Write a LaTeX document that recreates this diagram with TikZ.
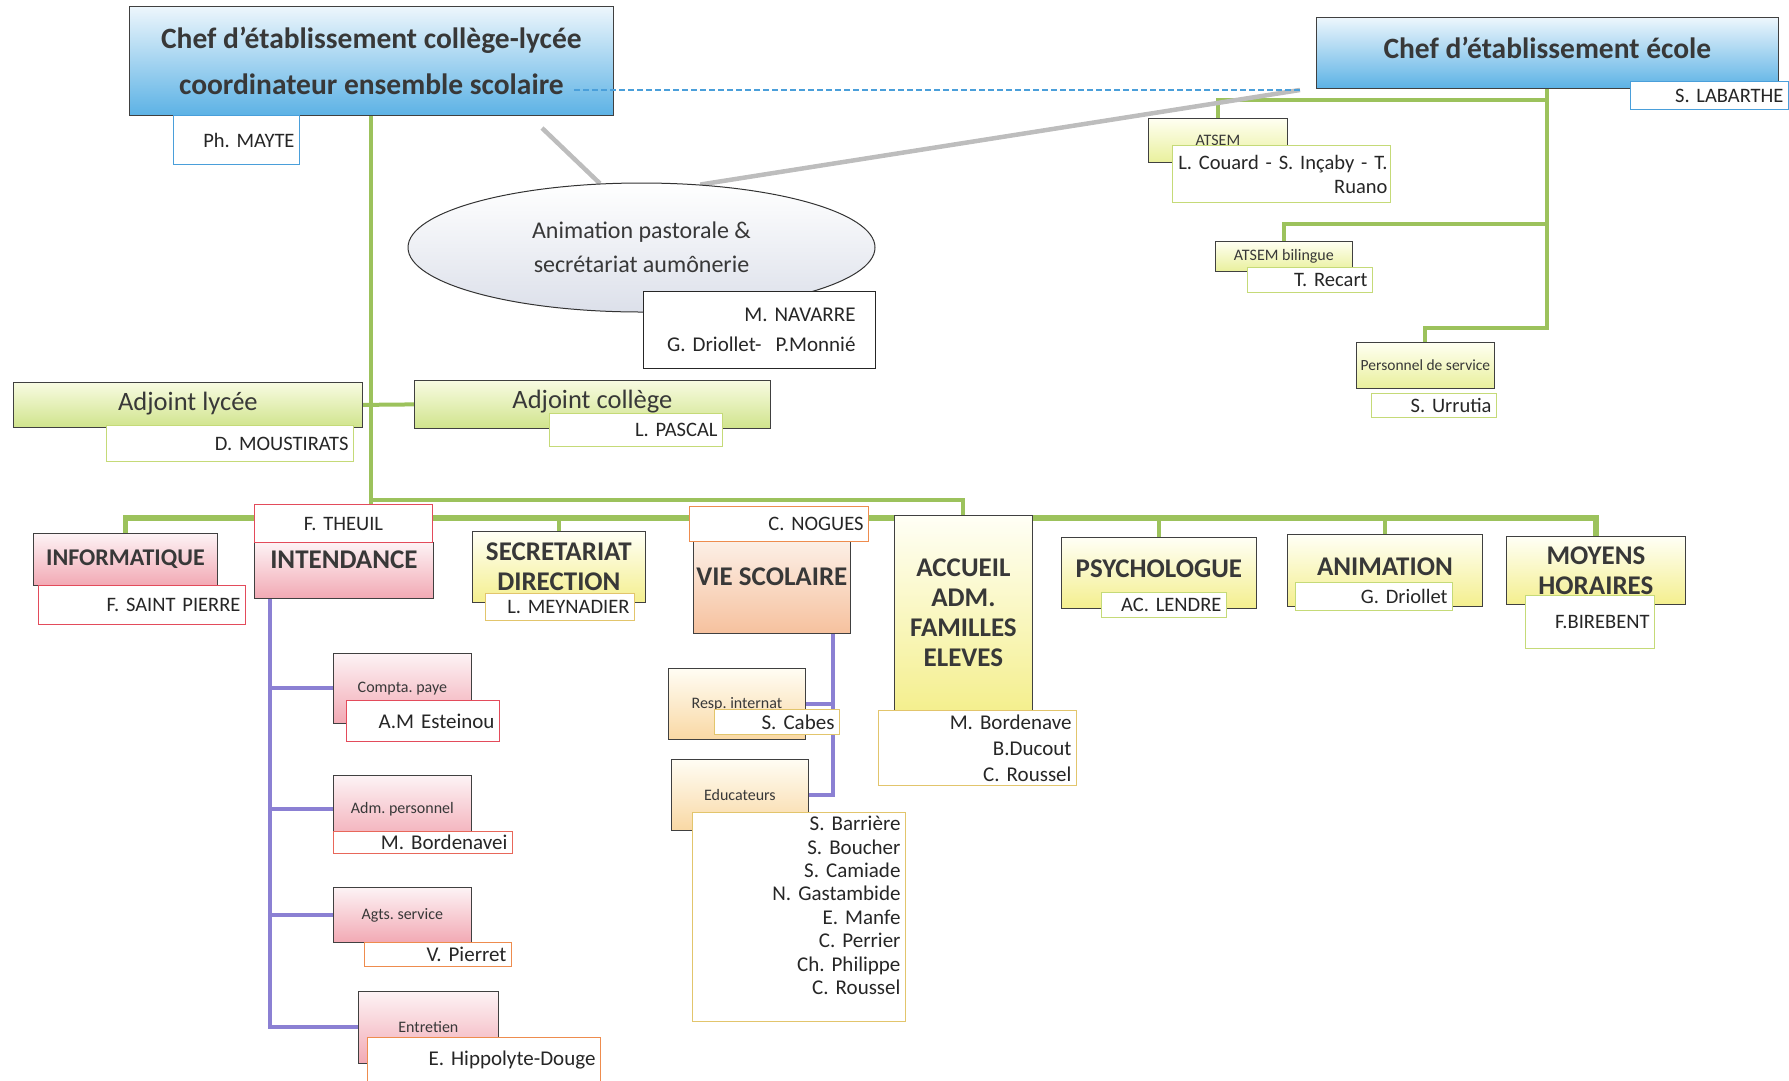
\documentclass[tikz,border=0pt]{standalone}
\usepackage{fontspec}
\setmainfont{Carlito}
\usetikzlibrary{shapes.geometric,backgrounds}
\frenchspacing

\definecolor{bluetop}{HTML}{EDF6FC}
\definecolor{bluebot}{HTML}{5CB2E5}
\definecolor{greentop}{HTML}{F8FBE2}
\definecolor{greenbot}{HTML}{D0E48C}
\definecolor{yeltop}{HTML}{FFFFF6}
\definecolor{yelbot}{HTML}{F4EF8E}
\definecolor{ygtop}{HTML}{FFFFF2}
\definecolor{ygbot}{HTML}{E9F09C}
\definecolor{pinktop}{HTML}{FDF3F5}
\definecolor{pinkbot}{HTML}{F2A9B4}
\definecolor{peachtop}{HTML}{FCEFE6}
\definecolor{peachbot}{HTML}{F6C19E}
\definecolor{ochretop}{HTML}{FFFDF4}
\definecolor{ochrebot}{HTML}{F9D8A4}
\definecolor{ellbot}{HTML}{DCE0EA}
\definecolor{nblue}{HTML}{4A9FDA}
\definecolor{ngreen}{HTML}{C5DA78}
\definecolor{nred}{HTML}{E34B5B}
\definecolor{nredor}{HTML}{E8675A}
\definecolor{norange}{HTML}{EE8C4E}
\definecolor{nochre}{HTML}{E2C56C}
\definecolor{lgreen}{HTML}{9CC25C}
\definecolor{lpurple}{HTML}{8B80D3}
\definecolor{lgrey}{HTML}{BDBDBD}

\begin{document}
\begin{tikzpicture}[x=1pt,y=-1pt,
    sz/.style 2 args={minimum width=#1pt,minimum height=#2pt},
    nw/.style 2 args={text width=#1pt,minimum height=#2pt},
    lift/.style={text depth=#1pt}]
    \tikzstyle{box} = [draw=black!75,line width=0.8pt,anchor=north west,inner sep=0pt,align=center,text=black!78]
    \tikzstyle{chef} = [box,top color=bluetop,bottom color=bluebot,font=\bfseries\fontsize{29.5}{46}\selectfont]
    \tikzstyle{adj} = [box,top color=greentop,bottom color=greenbot,font=\fontsize{26.5}{30}\selectfont]
    \tikzstyle{pole} = [box,font=\bfseries\fontsize{27}{30}\selectfont]
    \tikzstyle{sub} = [box,font=\fontsize{16}{19}\selectfont]
    \tikzstyle{fpink} = [top color=pinktop,bottom color=pinkbot]
    \tikzstyle{fyel} = [top color=yeltop,bottom color=yelbot]
    \tikzstyle{fyg} = [top color=ygtop,bottom color=ygbot]
    \tikzstyle{fpeach} = [top color=peachtop,bottom color=peachbot]
    \tikzstyle{fochre} = [top color=ochretop,bottom color=ochrebot]
    \tikzstyle{nm} = [fill=white,line width=1pt,anchor=north west,inner xsep=5pt,inner ysep=0pt,align=right,text=black!85,font=\fontsize{20.5}{24}\selectfont]
    \tikzstyle{gl} = [draw=lgreen,line width=4pt]
    \tikzstyle{pl} = [draw=lpurple,line width=4pt]
    \tikzstyle{grl} = [draw=lgrey,line width=4.5pt]
    \tikzstyle{dl} = [draw=nblue,line width=2pt,dash pattern=on 6pt off 3pt]

    \useasboundingbox (0,0) rectangle (1789,1080);

    \node[chef,sz={484}{109}] (chef1) at (129,6) {Chef d'établissement collège-lycée\\coordinateur ensemble scolaire};
    \node[nm,draw=nblue,nw={116}{49}] (mayte) at (173,115) {Ph. MAYTE};
    \node[chef,sz={462}{71},lift=10] (ecole) at (1316,17) {Chef d'établissement école};
    \node[nm,draw=nblue,nw={148}{28}] (labarthe) at (1630,81) {S. LABARTHE};

    \node[ellipse,draw=black!80,line width=1pt,top color=white,bottom color=ellbot,sz={467}{129},inner sep=0pt,
        align=center,text=black!78,font=\fontsize{24}{34}\selectfont] (pasto) at (641.5,247.5) {Animation pastorale \&\\secrétariat aumônerie};
    \node[nm,draw=black!85,inner xsep=20pt,nw={192}{77},font=\fontsize{21}{30}\selectfont] (navarre) at (643,291) {M. NAVARRE\\G. Driollet-~~P.Monnié};

    \node[adj,sz={349}{45},lift=8] (adjl) at (13,382) {Adjoint lycée};
    \node[nm,draw=ngreen,nw={237}{36}] (moustirats) at (106,425) {D. MOUSTIRATS};
    \node[adj,sz={356}{48},lift=10] (adjc) at (414,380) {Adjoint collège};
    \node[nm,draw=ngreen,nw={163}{33}] (pascal) at (549,413) {L. PASCAL};

    \node[pole,fpink,sz={184}{52},font=\bfseries\fontsize{24}{30}\selectfont] (info) at (33,533) {INFORMATIQUE};
    \node[nm,draw=nred,nw={197}{39}] (saintpierre) at (38,585) {F. SAINT PIERRE};
    \node[pole,fpink,sz={179}{56},lift=22] (intend) at (254,542) {INTENDANCE};
    \node[nm,draw=nred,align=center,nw={168}{38}] (theuil) at (254,504) {F. THEUIL};
    \node[pole,fyel,sz={173}{71}] (secr) at (472,531) {SECRETARIAT\\DIRECTION};
    \node[nm,draw=nochre,nw={139}{27}] (meynadier) at (485,593) {L. MEYNADIER};
    \node[pole,fpeach,sz={157}{92},lift=21] (vie) at (693,541) {VIE SCOLAIRE};
    \node[nm,draw=norange,nw={169}{35}] (nogues) at (689,506) {C. NOGUES};
    \node[pole,fyel,sz={138}{195}] (accueil) at (894,515) {ACCUEIL\\ADM.\\FAMILLES\\ELEVES};
    \node[nm,draw=nochre,nw={188}{75},font=\fontsize{21}{26}\selectfont] (accnames) at (878,710) {M. Bordenave\\B.Ducout\\C. Roussel};
    \node[pole,fyel,sz={195}{71},lift=8] (psy) at (1061,537) {PSYCHOLOGUE};
    \node[nm,draw=ngreen,nw={115}{25}] (lendre) at (1101,592) {AC. LENDRE};
    \node[pole,fyel,sz={195}{72},lift=8] (anim) at (1287,534) {ANIMATION};
    \node[nm,draw=ngreen,nw={147}{28}] (driollet) at (1295,582) {G. Driollet};
    \node[pole,fyel,sz={179}{68}] (moyens) at (1506,536) {MOYENS\\HORAIRES};
    \node[nm,draw=ngreen,nw={119}{53}] (birebent) at (1525,595) {F.BIREBENT};

    \node[sub,fpink,sz={138}{70}] (compta) at (333,653) {Compta. paye};
    \node[nm,draw=nred,nw={143}{41},font=\fontsize{21}{24}\selectfont] (esteinou) at (346,700) {A.M Esteinou};
    \node[sub,fpink,sz={138}{68}] (adm) at (333,775) {Adm. personnel};
    \node[nm,draw=nredor,nw={169}{22},font=\fontsize{21}{24}\selectfont] (bordenavei) at (333,831) {M. Bordenavei};
    \node[sub,fpink,sz={138}{55}] (agts) at (333,887) {Agts. service};
    \node[nm,draw=norange,nw={137}{24},font=\fontsize{21}{24}\selectfont] (pierret) at (364,942) {V. Pierret};
    \node[sub,fpink,sz={140}{72}] (entr) at (358,991) {Entretien};
    \node[nm,draw=norange,nw={223}{45},font=\fontsize{21}{24}\selectfont] (hippolyte) at (367,1037) {E. Hippolyte-Douge};

    \node[sub,fochre,sz={137}{71}] (resp) at (668,668) {Resp. internat};
    \node[nm,draw=nochre,nw={115}{25},font=\fontsize{21}{24}\selectfont] (cabes) at (714,709) {S. Cabes};
    \node[sub,fochre,sz={137}{71}] (educ) at (671,759) {Educateurs};
    \node[nm,draw=nochre,nw={203}{209},font=\fontsize{21}{23.4}\selectfont] (educnames) at (692,812)
        {S. Barrière\\S. Boucher\\S. Camiade\\N. Gastambide\\E. Manfe\\C. Perrier\\Ch. Philippe\\C. Roussel\\\mbox{}};

    \node[sub,fyg,sz={139}{44}] (atsem) at (1148,118) {ATSEM};
    \node[nm,draw=ngreen,inner xsep=3pt,nw={212}{57}] (couard) at (1172,145) {L. Couard - S. Inçaby - T.\\Ruano};
    \node[sub,fyg,sz={137}{30}] (atsemb) at (1215,241) {ATSEM bilingue};
    \node[nm,draw=ngreen,nw={115}{25}] (recart) at (1247,267) {T. Recart};
    \node[sub,fyg,sz={138}{46},font=\fontsize{15.5}{18}\selectfont] (perso) at (1356,342) {Personnel de service};
    \node[nm,draw=ngreen,nw={115}{24}] (urrutia) at (1371,393) {S. Urrutia};

    \coordinate (bar) at (0,518);
    \coordinate (g1) at (542,128);
    \coordinate (dA) at (574,90);
    \coordinate (dB) at (1300,90);
    \coordinate (itop) at ([xshift=-73.5pt]intend.south);
    \coordinate (vtop) at ([xshift=61.5pt]vie.south);

    \begin{scope}[on background layer]
        \draw[gl] (chef1.south) -- (chef1.south |- bar);
        \draw[gl] (chef1.south |- 0,500) -| (accueil.north);
        \draw[gl] (adjl.east) -- (adjc.west);
        \draw[gl,line width=5.5pt] (info.north) -- (info.north |- bar) -| (moyens.north);
        \foreach \p in {secr,psy,anim}
            \draw[gl] (\p.north) -- (\p.north |- bar);
        \draw[gl] (ecole.south) -- ++(0,239) -| (perso.north);
        \draw[gl] (ecole.south |- 0,224) -| (atsemb.north);
        \draw[gl] (ecole.south |- 0,100) -| (atsem.north);
        \draw[pl] (itop) |- (entr.west);
        \foreach \b in {compta,adm,agts}
            \draw[pl] (itop |- \b.west) -- (\b.west);
        \draw[pl] (vtop) |- (educ.east);
        \draw[pl] (vtop |- resp.east) -- (resp.east);
        \draw[grl] (g1) -- (pasto.123);
        \draw[grl] (pasto.47) -- (dB);
    \end{scope}
    \draw[dl] (dA) -- (dB);
\end{tikzpicture}
\end{document}
